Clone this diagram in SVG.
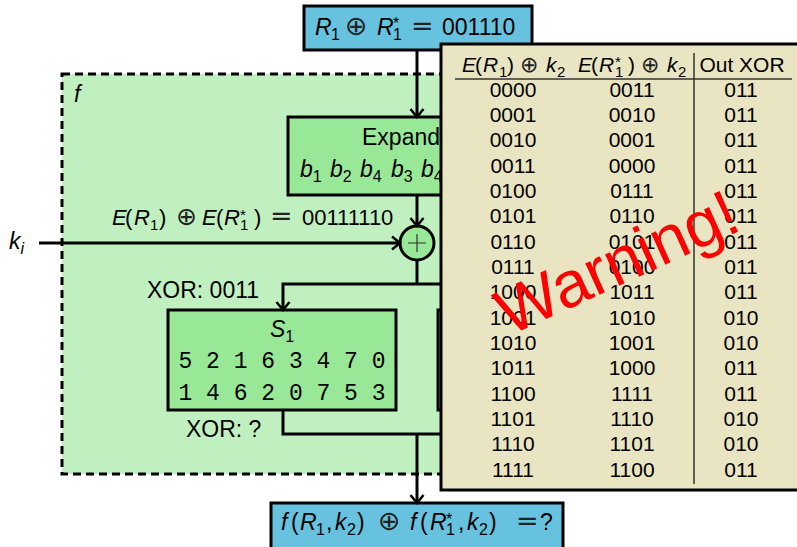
<svg xmlns="http://www.w3.org/2000/svg" width="797" height="547" viewBox="0 0 797 547">
<style>
.m{font-family:"Liberation Sans","DejaVu Sans",sans-serif;font-size:23px;fill:#000}
.t{font-family:"Liberation Sans","DejaVu Sans",sans-serif;font-size:21px;fill:#000}
.e{font-family:"Liberation Sans","DejaVu Sans",sans-serif;font-size:22px;fill:#000}
.i{font-style:italic}
.s{font-size:16px}
.ts{font-size:15px}
.dv{font-family:"DejaVu Sans",sans-serif;fill:#222}
.mono{font-family:"Liberation Mono","DejaVu Sans Mono",monospace;font-size:23px;fill:#000}
.box{fill:#98E898;stroke:#000;stroke-width:3}
.blue{fill:#66C2DE;stroke:#000;stroke-width:3}
.ln{fill:none;stroke:#000;stroke-width:3}
.ar{marker-end:url(#arr)}
.col{text-anchor:middle}
</style>
<defs>
<marker id="arr" markerUnits="userSpaceOnUse" markerWidth="20" markerHeight="20" refX="10" refY="10" orient="auto" overflow="visible">
<path d="M2 3.5 L10 10 L2 16.5" fill="none" stroke="#000" stroke-width="2.5"/>
</marker>
</defs>

<g id="f-region">
<rect x="62" y="74" width="700" height="400" fill="#C0F0C0" stroke="#000" stroke-width="3" stroke-dasharray="8 5"/>
<text class="m i" x="74" y="102">f</text>
</g>

<g id="input">
<rect class="blue" x="304" y="6" width="228" height="44"/>
<text class="m"><tspan class="i" x="315" y="35">R</tspan><tspan class="s" x="331" dy="5">1</tspan><tspan class="dv" font-size="27" x="345" y="35">⊕</tspan><tspan class="i" x="377">R</tspan><tspan class="s" x="393" dy="5">1</tspan><tspan class="s" x="393" dy="-11">*</tspan><tspan class="dv" font-size="27" x="411" y="35">=</tspan><tspan x="442">001110</tspan></text>
</g>

<g id="expander">
<rect class="box" x="288" y="117" width="258" height="78"/>
<text class="m" x="362" y="145">Expander</text>
<text class="m"><tspan class="i" x="300" y="177">b</tspan><tspan class="s" dy="5">1</tspan><tspan class="i" x="330" y="177">b</tspan><tspan class="s" dy="5">2</tspan><tspan class="i" x="360" y="177">b</tspan><tspan class="s" dy="5">4</tspan><tspan class="i" x="391" y="177">b</tspan><tspan class="s" dy="5">3</tspan><tspan class="i" x="421" y="177">b</tspan><tspan class="s" dy="5">4</tspan></text>
</g>

<g id="xor-key">
<circle cx="417" cy="243" r="17" fill="#98E898" stroke="#000" stroke-width="3"/>
<path d="M408 243 H426 M417 234 V252" stroke="#333" stroke-width="1.2"/>
</g>

<g id="ki">
<text class="m" x="9" y="249"><tspan class="i">k</tspan><tspan class="s i" dy="5">i</tspan></text>
</g>

<g id="s1">
<rect class="box" x="168" y="310" width="228" height="100"/>
<text class="m" x="282" y="337" text-anchor="middle"><tspan class="i">S</tspan><tspan class="s" dy="5">1</tspan></text>
<text class="mono" x="282" y="368" text-anchor="middle" xml:space="preserve">5 2 1 6 3 4 7 0</text>
<text class="mono" x="282" y="400" text-anchor="middle" xml:space="preserve">1 4 6 2 0 7 5 3</text>
</g>

<g id="s2">
<rect class="box" x="438" y="310" width="228" height="100"/>
</g>

<g id="output">
<rect class="blue" x="271" y="503" width="292" height="50"/>
<text class="m" font-size="24"><tspan class="i" x="281" y="530">f</tspan><tspan x="291">(</tspan><tspan class="i" x="300">R</tspan><tspan class="s" x="316" dy="5">1</tspan><tspan x="326" y="530">,</tspan><tspan class="i" x="335">k</tspan><tspan class="s" x="347" dy="5">2</tspan><tspan x="357" y="530">)</tspan><tspan class="dv" font-size="27" x="378">⊕</tspan><tspan class="i" x="410">f</tspan><tspan x="420">(</tspan><tspan class="i" x="430">R</tspan><tspan class="s" x="446" dy="5">1</tspan><tspan class="s" x="446" dy="-10">*</tspan><tspan x="458" y="530">,</tspan><tspan class="i" x="467">k</tspan><tspan class="s" x="479" dy="5">2</tspan><tspan x="489" y="530">)</tspan><tspan class="dv" font-size="27" x="516">=</tspan><tspan x="540">?</tspan></text>
</g>

<g id="connectors">
<line class="ln ar" x1="417" y1="50" x2="417" y2="117"/>
<line class="ln ar" x1="417" y1="195" x2="417" y2="226"/>
<line class="ln ar" x1="39" y1="243" x2="400" y2="243"/>
<path class="ln" d="M417 260 V284"/>
<path class="ln ar" d="M417 284 H283 V310"/>
<path class="ln ar" d="M417 284 H552 V310"/>
<path class="ln" d="M283 410 V434 H552 V410"/>
<line class="ln ar" x1="417" y1="434" x2="417" y2="503"/>
<text class="e"><tspan class="i" x="112" y="225">E</tspan><tspan x="125">(</tspan><tspan class="i" x="134">R</tspan><tspan class="ts" x="150" dy="5">1</tspan><tspan x="159" y="225">)</tspan><tspan class="dv" font-size="25" x="176">⊕</tspan><tspan class="i" x="202">E</tspan><tspan x="216">(</tspan><tspan class="i" x="224">R</tspan><tspan class="ts" x="240" dy="5">1</tspan><tspan class="ts" x="240" dy="-10">*</tspan><tspan x="254" y="225">)</tspan><tspan class="dv" font-size="27" x="270">=</tspan><tspan x="302">00111110</tspan></text>
<text class="m" x="147" y="298">XOR: 0011</text>
<text class="m" x="186" y="437">XOR: ?</text>
</g>

<g id="table">
<rect x="441" y="44" width="380" height="446" fill="#E9E5C2" stroke="#000" stroke-width="3"/>
<line x1="455" y1="79" x2="792" y2="79" stroke="#333" stroke-width="1.5"/>
<line x1="694" y1="53" x2="694" y2="484" stroke="#333" stroke-width="1.5"/>
<text class="t"><tspan class="i" x="462" y="72">E</tspan><tspan x="475">(</tspan><tspan class="i" x="483">R</tspan><tspan class="ts" x="499" dy="5">1</tspan><tspan x="507" y="72">)</tspan><tspan class="dv" font-size="22" x="520">⊕</tspan><tspan class="i" x="546">k</tspan><tspan class="ts" x="557" dy="5">2</tspan></text>
<text class="t"><tspan class="i" x="578" y="72">E</tspan><tspan x="591">(</tspan><tspan class="i" x="599">R</tspan><tspan class="ts" x="615" dy="5">1</tspan><tspan class="ts" x="615" dy="-10">*</tspan><tspan x="628" y="72">)</tspan><tspan class="dv" font-size="22" x="641">⊕</tspan><tspan class="i" x="667">k</tspan><tspan class="ts" x="678" dy="5">2</tspan></text>
<text class="t col" x="742" y="72">Out XOR</text>
<g class="t col">
<text x="513" y="97">0000</text><text x="632" y="97">0011</text><text x="741" y="97">011</text>
<text x="513" y="122">0001</text><text x="632" y="122">0010</text><text x="741" y="122">011</text>
<text x="513" y="147">0010</text><text x="632" y="147">0001</text><text x="741" y="147">011</text>
<text x="513" y="173">0011</text><text x="632" y="173">0000</text><text x="741" y="173">011</text>
<text x="513" y="198">0100</text><text x="632" y="198">0111</text><text x="741" y="198">011</text>
<text x="513" y="223">0101</text><text x="632" y="223">0110</text><text x="741" y="223">011</text>
<text x="513" y="249">0110</text><text x="632" y="249">0101</text><text x="741" y="249">011</text>
<text x="513" y="274">0111</text><text x="632" y="274">0100</text><text x="741" y="274">011</text>
<text x="513" y="299">1000</text><text x="632" y="299">1011</text><text x="741" y="299">011</text>
<text x="513" y="325">1001</text><text x="632" y="325">1010</text><text x="741" y="325">010</text>
<text x="513" y="350">1010</text><text x="632" y="350">1001</text><text x="741" y="350">010</text>
<text x="513" y="375">1011</text><text x="632" y="375">1000</text><text x="741" y="375">011</text>
<text x="513" y="401">1100</text><text x="632" y="401">1111</text><text x="741" y="401">011</text>
<text x="513" y="426">1101</text><text x="632" y="426">1110</text><text x="741" y="426">010</text>
<text x="513" y="451">1110</text><text x="632" y="451">1101</text><text x="741" y="451">010</text>
<text x="513" y="477">1111</text><text x="632" y="477">1100</text><text x="741" y="477">011</text>
</g>
</g>

<g id="warning">
<text x="509" y="336" transform="rotate(-24.5 509 336)" font-family="Liberation Sans, sans-serif" font-size="65" fill="#FF0000">Warning!</text>
</g>
</svg>
